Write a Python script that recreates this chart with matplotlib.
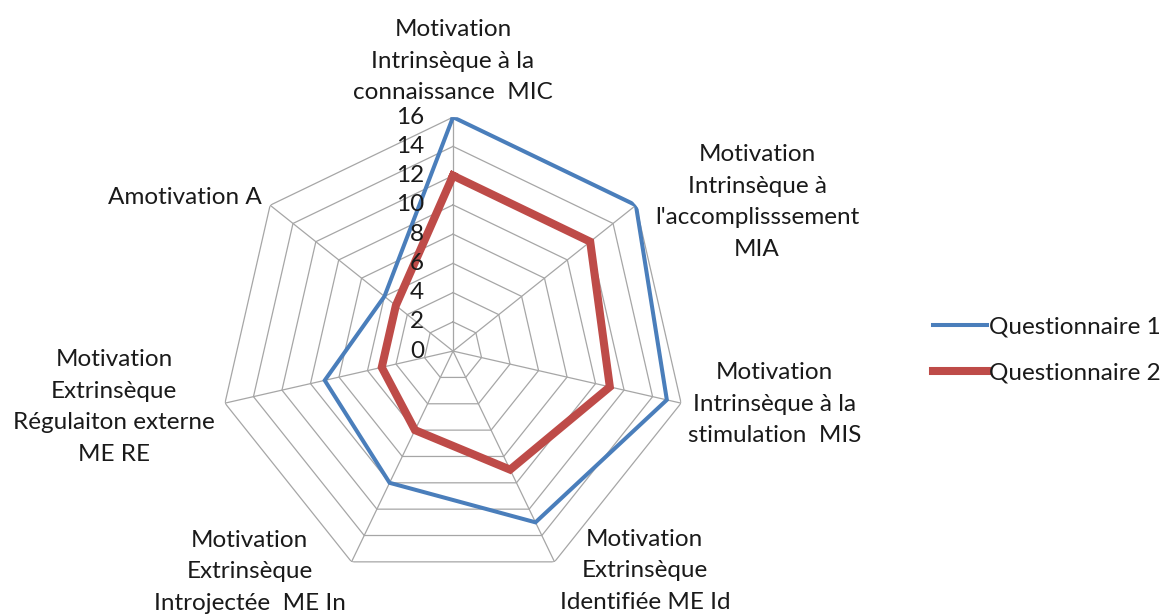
import numpy as np
import matplotlib
matplotlib.use('Agg')
import matplotlib.pyplot as plt

# axes de la toile (sens horaire depuis le haut)
categories = [
    "Motivation\nIntrinsèque à la\nconnaissance  MIC",
    "Motivation\nIntrinsèque à\nl'accomplisssement\nMIA",
    "Motivation\nIntrinsèque à la\nstimulation  MIS",
    "Motivation\nExtrinsèque\nIdentifiée ME Id",
    "Motivation\nExtrinsèque\nIntrojectée  ME In",
    "Motivation\nExtrinsèque\nRégulaiton externe\nME RE",
    "Amotivation A",
]
questionnaire_1 = [16, 16, 15, 13, 10, 9, 6]
questionnaire_2 = [12, 12, 11, 9, 6, 5, 5]
ticks = [0, 2, 4, 6, 8, 10, 12, 14, 16]

# position des étiquettes (décalage en pixels, alignement)
label_pos = [
    ((0, 14), 'center', 'bottom'),
    ((19, 3), 'left', 'center'),
    ((7, -1), 'left', 'center'),
    ((5, -9), 'left', 'center'),
    ((-6, -10), 'right', 'center'),
    ((-10, -4), 'right', 'center'),
    ((-8, 8), 'right', 'center'),
]

plt.rcParams['font.family'] = ['Lato', 'DejaVu Sans']
FS = 17.5

n = len(categories)
theta = np.arange(n) * 2 * np.pi / n
theta_closed = np.append(theta, theta[0])

fig = plt.figure(figsize=(11.7, 6.14), dpi=100)
ax = fig.add_axes([0.1872, 0.0472, 0.4, 0.762], projection='polar')
ax.set_theta_zero_location('N')
ax.set_theta_direction(-1)
ax.set_ylim(0, 16)
ax.grid(False)
ax.spines['polar'].set_visible(False)
ax.set_xticks([])
ax.set_yticks([])
ax.patch.set_alpha(0)

grid_col = '#a6a6a6'
for r in ticks[1:]:
    ax.plot(theta_closed, [r] * (n + 1), color=grid_col, lw=0.9, zorder=1)
for t in theta:
    ax.plot([t, t], [0, 16], color=grid_col, lw=0.9, zorder=1)

ax.plot(theta_closed, questionnaire_1 + questionnaire_1[:1], color='#4a7ebb',
        lw=2.9, label='Questionnaire 1', zorder=3, solid_joinstyle='miter')
ax.plot(theta_closed, questionnaire_2 + questionnaire_2[:1], color='#be4b48',
        lw=5.8, label='Questionnaire 2', zorder=2, solid_joinstyle='miter')

for r in ticks:
    ax.annotate(str(r), xy=(0, r), xytext=(-29, 0), textcoords='offset pixels',
                ha='right', va='center', fontsize=FS, color='#1a1a1a')

for t, lab, (off, ha, va) in zip(theta, categories, label_pos):
    ax.annotate(lab, xy=(t, 16), xytext=off, textcoords='offset pixels',
                ha=ha, va=va, multialignment='center', fontsize=FS,
                color='#1a1a1a', linespacing=1.62, annotation_clip=False)

handles, labels = ax.get_legend_handles_labels()
fig.legend(handles, labels, loc='center left', bbox_to_anchor=(0.779, 0.43),
           frameon=False, fontsize=FS, handlelength=2.2, handletextpad=0.1,
           labelspacing=1.0, labelcolor='#1a1a1a')

fig.savefig('out.png', dpi=100)
